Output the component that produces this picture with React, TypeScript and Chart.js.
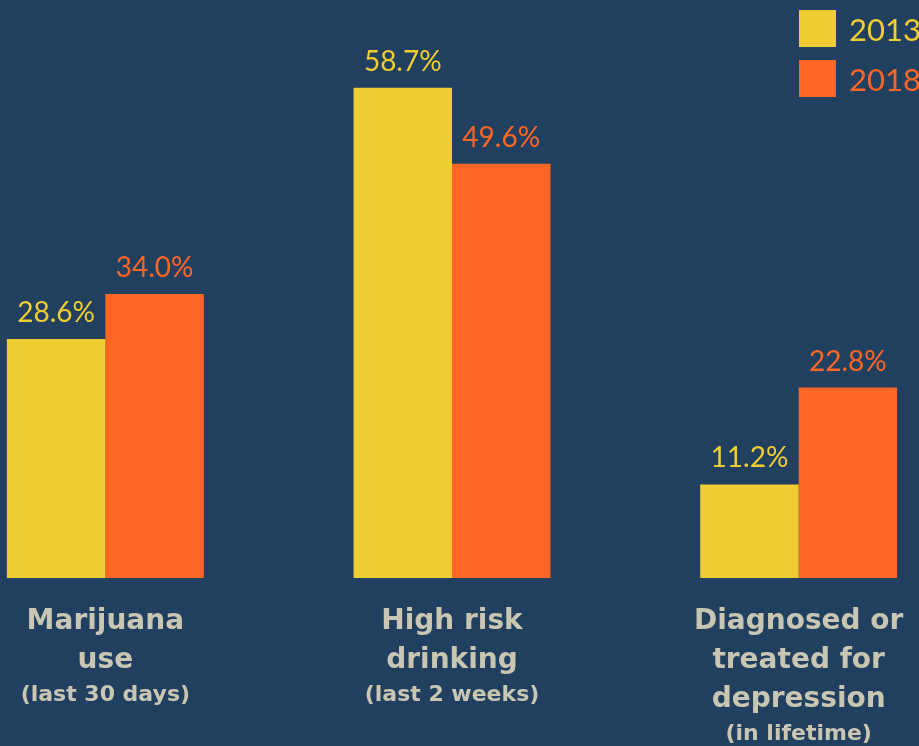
import React, { useEffect, useRef } from "react";
import { Chart, registerables } from "chart.js";

Chart.register(...registerables);

const categories: string[][] = [
  ["Marijuana", "use"],
  ["High risk", "drinking"],
  ["Diagnosed or", "treated for", "depression"],
];
const subLabels: string[] = ["(last 30 days)", "(last 2 weeks)", "(in lifetime)"];
const seriesNames: string[] = ["2013", "2018"];
const values2013: number[] = [28.6, 58.7, 11.2];
const values2018: number[] = [34.0, 49.6, 22.8];

const BG = "#213f5e";
const YELLOW = "#f0cd33";
const ORANGE = "#fe6626";
const LABEL = "#c9c6b4";
const FONT = "Lato, 'Open Sans', sans-serif";
const LABEL_FONT = "'DejaVu Sans', Lato, sans-serif";

const overlayPlugin = {
  id: "overlay",
  afterDatasetsDraw(chart: any) {
    const ctx = chart.ctx;
    ctx.save();
    // value labels
    chart.data.datasets.forEach((ds: any, di: number) => {
      const meta = chart.getDatasetMeta(di);
      meta.data.forEach((bar: any, i: number) => {
        const v = ds.data[i] as number;
        ctx.font = `400 28px ${FONT}`;
        ctx.fillStyle = ds.backgroundColor;
        ctx.textAlign = "center";
        ctx.textBaseline = "alphabetic";
        ctx.fillText(v.toFixed(1) + "%", bar.x, bar.y - 17);
      });
    });
    // category labels
    const xs = chart.scales.x;
    const baseY = chart.chartArea.bottom;
    categories.forEach((lines, i) => {
      const cx = xs.getPixelForValue(i);
      ctx.fillStyle = LABEL;
      ctx.textAlign = "center";
      ctx.textBaseline = "middle";
      ctx.font = `700 28px ${LABEL_FONT}`;
      lines.forEach((ln, li) => {
        ctx.fillText(ln, cx, baseY + 44 + li * 39);
      });
      ctx.font = `700 22px ${LABEL_FONT}`;
      ctx.fillText(subLabels[i], cx, baseY + 44 + (lines.length - 1) * 39 + 34);
    });
    ctx.restore();
  },
};

export default function App() {
  const canvasRef = useRef<HTMLCanvasElement | null>(null);

  useEffect(() => {
    if (!canvasRef.current) return;
    const chart = new Chart(canvasRef.current, {
      type: "bar",
      data: {
        labels: categories.map((c) => c.join(" ")),
        datasets: [
          {
            label: seriesNames[0],
            data: values2013,
            backgroundColor: YELLOW,
            borderWidth: 0,
            categoryPercentage: 0.568,
            barPercentage: 1,
          },
          {
            label: seriesNames[1],
            data: values2018,
            backgroundColor: ORANGE,
            borderWidth: 0,
            categoryPercentage: 0.568,
            barPercentage: 1,
          },
        ],
      },
      options: {
        animation: false,
        responsive: false,
        maintainAspectRatio: false,
        layout: { padding: { top: 0, bottom: 168, left: 0, right: 0 } },
        plugins: {
          legend: { display: false },
          tooltip: { enabled: false },
        },
        scales: {
          x: {
            display: false,
            grid: { display: false },
          },
          y: {
            display: false,
            min: 0,
            max: 69.2,
            grid: { display: false },
          },
        },
      },
      plugins: [overlayPlugin],
    });
    return () => chart.destroy();
  }, []);

  return (
    <div
      style={{
        position: "fixed",
        left: 0,
        top: 0,
        width: 919,
        height: 746,
        overflow: "hidden",
        background: BG,
      }}
    >
      <canvas
        ref={canvasRef}
        width={1040}
        height={746}
        style={{ position: "absolute", left: -68, top: 0, width: 1040, height: 746 }}
      />
      <div style={{ position: "absolute", left: 799, top: 10, fontFamily: FONT }}>
        {seriesNames.map((name, i) => (
          <div
            key={name}
            style={{
              display: "flex",
              alignItems: "center",
              height: 37,
              marginBottom: 13,
              whiteSpace: "nowrap",
            }}
          >
            <div
              style={{
                width: 37,
                height: 37,
                background: i === 0 ? YELLOW : ORANGE,
                marginRight: 13,
                flex: "none",
              }}
            />
            <span style={{ color: i === 0 ? YELLOW : ORANGE, fontSize: 31, fontWeight: 400 }}>
              {name}
            </span>
          </div>
        ))}
      </div>
    </div>
  );
}
